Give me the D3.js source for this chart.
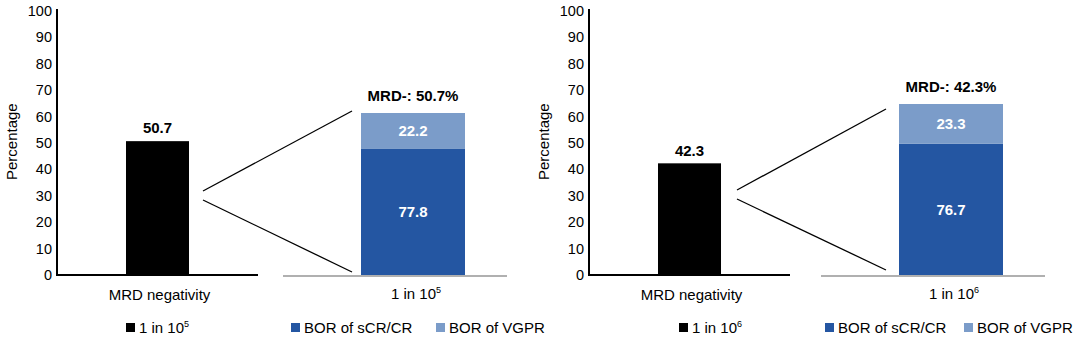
<!DOCTYPE html>
<html>
<head>
<meta charset="utf-8">
<script src="https://cdn.jsdelivr.net/npm/d3@7"></script>
<style>
  body { margin: 0; background: #fff; }
  svg text { font-family: "Liberation Sans", Arial, Helvetica, sans-serif; }
</style>
</head>
<body>
<div id="chart"></div>
<script>
// data
var thresholds = ["5", "6"];            // exponent of "1 in 10^x"
var mrdNegative = [50.7, 42.3];         // MRD negativity rate, %
var borCR = [77.8, 76.7];               // share of MRD- with BOR sCR/CR
var borVGPR = [22.2, 23.3];             // share of MRD- with BOR VGPR
var yTicks = [0, 10, 20, 30, 40, 50, 60, 70, 80, 90, 100];
var leftCategory = "MRD negativity";
var legendNames = ["BOR of sCR/CR", "BOR of VGPR"];

var colCR = "#2456a2", colVGPR = "#7b9cc9";

// layout of each panel (pixel positions)
var panels = [
  {axisX: 57, baseEnd: 258, stackStart: 283, stackEnd: 507, stackTop: 113,
   zoom: [[203, 191, 352, 111], [203, 200, 352, 272]], labelX: 12,
   legendX: [126, 291, 436]},
  {axisX: 589, baseEnd: 790, stackStart: 821, stackEnd: 1045, stackTop: 104,
   zoom: [[737, 190, 886, 109], [737, 199, 886, 270]], labelX: 544,
   legendX: [679, 825, 964]}
];
var zeroY = 275, topY = 11;

var svg = d3.select("#chart").append("svg")
    .attr("width", 1080)
    .attr("height", 339);

function sup(sel, exp) {
  sel.append("tspan").text("1 in 10");
  sel.append("tspan").attr("dy", -6).attr("font-size", 9).text(exp);
}

panels.forEach(function (p, i) {
  var g = svg.append("g");

  var y = d3.scaleLinear().domain([0, 100]).range([zeroY, topY]);
  var x = d3.scaleBand().domain([leftCategory])
      .range([p.axisX, p.baseEnd]).paddingInner(0).paddingOuter(1.095);

  // y axis labels
  g.selectAll(".tick")
    .data(yTicks)
    .enter().append("text")
    .attr("x", p.axisX - 5)
    .attr("y", function (d) { return y(d); })
    .attr("dy", "0.35em")
    .attr("text-anchor", "end")
    .attr("font-size", 14.5)
    .text(function (d) { return d; });

  g.append("text")
    .attr("transform", "translate(" + p.labelX + "," + y(50.5) + ") rotate(-90)")
    .attr("text-anchor", "middle")
    .attr("dy", "0.35em")
    .attr("font-size", 15)
    .text("Percentage");

  // black bar
  g.append("rect")
    .attr("x", x(leftCategory))
    .attr("width", x.bandwidth())
    .attr("y", y(mrdNegative[i]))
    .attr("height", zeroY - y(mrdNegative[i]))
    .attr("fill", "#000");

  g.append("text")
    .attr("x", x(leftCategory) + x.bandwidth() / 2)
    .attr("y", y(mrdNegative[i]) - 13)
    .attr("dy", "0.35em")
    .attr("text-anchor", "middle")
    .attr("font-size", 15).attr("font-weight", "bold")
    .text(mrdNegative[i]);

  // axis lines
  g.append("line")
    .attr("x1", p.axisX).attr("x2", p.axisX)
    .attr("y1", topY - 2).attr("y2", zeroY + 1)
    .attr("stroke", "#000").attr("stroke-width", 2);
  g.append("line")
    .attr("x1", p.axisX).attr("x2", p.baseEnd)
    .attr("y1", zeroY).attr("y2", zeroY)
    .attr("stroke", "#000").attr("stroke-width", 2);

  g.append("text")
    .attr("x", x(leftCategory) + x.bandwidth() / 2 + 2)
    .attr("y", 295)
    .attr("dy", "0.35em")
    .attr("text-anchor", "middle")
    .attr("font-size", 15)
    .text(leftCategory);

  // zoom lines
  g.selectAll(".zoom")
    .data(p.zoom)
    .enter().append("line")
    .attr("x1", function (d) { return d[0]; })
    .attr("y1", function (d) { return d[1]; })
    .attr("x2", function (d) { return d[2]; })
    .attr("y2", function (d) { return d[3]; })
    .attr("stroke", "#000").attr("stroke-width", 1.3);

  // stacked bar
  var ys = d3.scaleLinear().domain([0, 100]).range([zeroY, p.stackTop]);
  var xs = d3.scaleBand().domain(["s"])
      .range([p.stackStart, p.stackEnd]).paddingInner(0).paddingOuter(0.577).align(0.65);

  g.append("line")
    .attr("x1", p.stackStart).attr("x2", p.stackEnd)
    .attr("y1", zeroY + 1).attr("y2", zeroY + 1)
    .attr("stroke", "#b0b0b0").attr("stroke-width", 2);

  var segs = [
    {v0: 0, v1: borCR[i], c: colCR},
    {v0: borCR[i], v1: borCR[i] + borVGPR[i], c: colVGPR}
  ];
  g.selectAll(".seg")
    .data(segs)
    .enter().append("rect")
    .attr("x", xs("s"))
    .attr("width", xs.bandwidth())
    .attr("y", function (d) { return ys(d.v1); })
    .attr("height", function (d) { return ys(d.v0) - ys(d.v1); })
    .attr("fill", function (d) { return d.c; });

  g.selectAll(".segl")
    .data(segs)
    .enter().append("text")
    .attr("x", xs("s") + xs.bandwidth() / 2)
    .attr("y", function (d) { return (ys(d.v0) + ys(d.v1)) / 2; })
    .attr("dy", "0.35em")
    .attr("text-anchor", "middle")
    .attr("font-size", 15).attr("font-weight", "bold")
    .attr("fill", "#fff")
    .text(function (d) { return d3.format(".1f")(d.v1 - d.v0); });

  g.append("text")
    .attr("x", xs("s") + xs.bandwidth() / 2)
    .attr("y", ys(100) - 17)
    .attr("dy", "0.35em")
    .attr("text-anchor", "middle")
    .attr("font-size", 15).attr("font-weight", "bold")
    .text("MRD-: " + mrdNegative[i] + "%");

  g.append("text")
    .attr("x", xs("s") + xs.bandwidth() / 2 + 3)
    .attr("y", 294)
    .attr("dy", "0.35em")
    .attr("text-anchor", "middle")
    .attr("font-size", 15)
    .call(sup, thresholds[i]);

  // legends
  var legend = [
    {x: p.legendX[0], c: "#000", t: null},
    {x: p.legendX[1], c: colCR, t: legendNames[0]},
    {x: p.legendX[2], c: colVGPR, t: legendNames[1]}
  ];
  var lg = g.selectAll(".lg").data(legend).enter().append("g");
  lg.append("rect")
    .attr("x", function (d) { return d.x; })
    .attr("y", 323)
    .attr("width", 9).attr("height", 9)
    .attr("fill", function (d) { return d.c; });
  lg.append("text")
    .attr("x", function (d) { return d.x + 13; })
    .attr("y", 328)
    .attr("dy", "0.35em")
    .attr("font-size", 15)
    .each(function (d) {
      var t = d3.select(this);
      if (d.t) t.text(d.t); else sup(t, thresholds[i]);
    });
});
</script>
</body>
</html>
